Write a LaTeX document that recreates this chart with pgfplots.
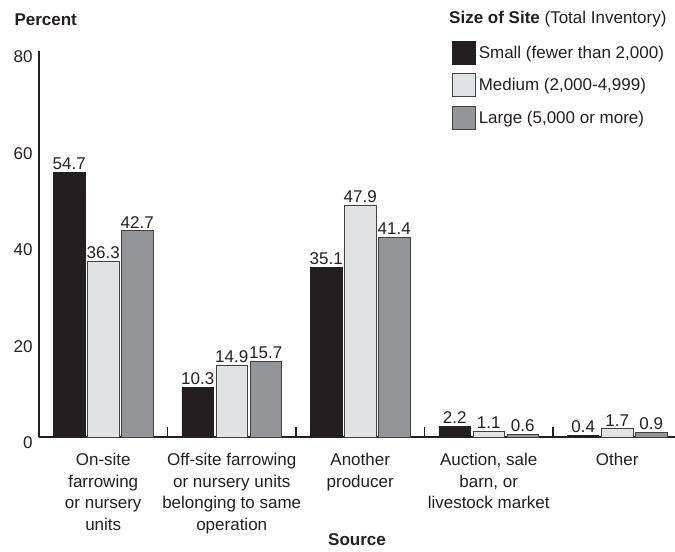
\documentclass[border=0pt]{standalone}
\usepackage{pgfplots}
\pgfplotsset{compat=1.18}
\usepackage{fontspec}
\setmainfont{Liberation Sans}
\definecolor{ink}{HTML}{231F20}
\definecolor{cSmall}{HTML}{231F20}
\definecolor{cMed}{HTML}{E1E2E3}
\definecolor{cLarge}{HTML}{939598}
\newcommand\fs{\fontsize{17bp}{21.5bp}\selectfont}
\begin{document}
\begin{tikzpicture}
\begin{axis}[
  scale only axis,
  width=636bp, height=386.4bp,
  xmin=-0.5, xmax=4.45,
  ymin=0, ymax=80,
  axis x line*=bottom, axis y line*=left,
  axis line style={ink, line width=1.4bp, -},
  xtick={0,1,2,3,4},
  xticklabels={{On-site\\farrowing\\or nursery\\units},
    {Off-site farrowing\\or nursery units\\belonging to same\\operation},
    {Another\\producer},
    {Auction, sale\\barn, or\\livestock market},
    {Other}},
  minor xtick={0.5,1.5,2.5,3.5},
  major tick length=0pt,
  minor tick length=10bp,
  xtick align=outside,
  minor x tick style={ink, line width=1.2bp, yshift=10bp},
  ytick={0,20,40,60,80},
  /pgf/number format/assume math mode=true,
  tick label style={font=\fs, text=ink},
  xticklabel style={align=center, yshift=-13bp},
  yticklabel style={yshift=-6bp, xshift=-3bp},
  ybar, bar width=0.245,
  nodes near coords,
  nodes near coords style={font=\fs, text=ink, yshift=-1bp},
  every node near coord/.append style={/pgf/number format/.cd, fixed, fixed zerofill, precision=1},
  clip=false,
  legend style={draw=none, fill=none, at={(0.649,1.025)}, anchor=north west,
    font=\fs, text=ink, row sep=8.5bp, inner sep=0pt,
    nodes={inner sep=3bp}},
  legend cell align=left,
  legend image code/.code={\draw[#1] (0bp,-11.5bp) rectangle (23bp,11.5bp);},
]
\addplot[bar shift=-0.265, fill=cSmall, draw=ink, line width=0.8bp]
  coordinates {(0,54.7) (1,10.3) (2,35.1) (3,2.2) (4,0.4)};
\addplot[bar shift=0, fill=cMed, draw=ink!85, line width=0.8bp]
  coordinates {(0,36.3) (1,14.9) (2,47.9) (3,1.1) (4,1.7)};
\addplot[bar shift=0.265, fill=cLarge, draw=ink!85, line width=0.8bp]
  coordinates {(0,42.7) (1,15.7) (2,41.4) (3,0.6) (4,0.9)};
\legend{Small (fewer than 2{,}000), Medium (2{,}000-4{,}999), Large (5{,}000 or more)}
\coordinate (O) at (rel axis cs:0,0);
\end{axis}
\node[anchor=east, font=\fs, text=ink] at ([shift={(631bp,418bp)}]O) {\textbf{Size of Site} (Total Inventory)};
\node[anchor=west, font=\fs\bfseries, text=ink] at ([shift={(-28bp,417bp)}]O) {Percent};
\node[font=\fs\bfseries, text=ink] at ([shift={(318bp,-103bp)}]O) {Source};
\pgfresetboundingbox
\path[use as bounding box] ([shift={(-39bp,-115bp)}]O) rectangle ([shift={(636bp,437bp)}]O);
\end{tikzpicture}
\end{document}
